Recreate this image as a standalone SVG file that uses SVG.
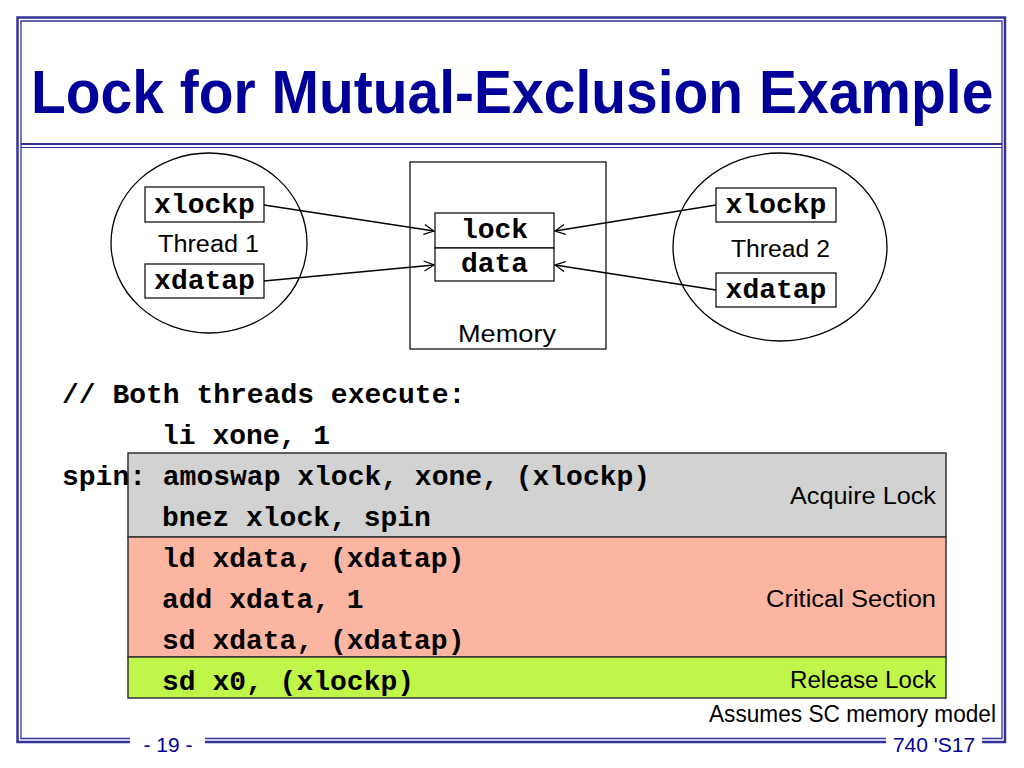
<svg xmlns="http://www.w3.org/2000/svg" width="1024" height="768" viewBox="0 0 1024 768">
<defs>
<marker id="arr" markerWidth="12" markerHeight="12" refX="11" refY="6" orient="auto" markerUnits="userSpaceOnUse">
<path d="M1,1 L11,6 L1,11" fill="none" stroke="#000" stroke-width="1.2"/>
</marker>
<style>
.frame{fill:none;stroke:#333399}
.title{font-family:"Liberation Sans",Arial,sans-serif;font-weight:bold;font-size:61px;fill:#000099}
.foot{font-family:"Liberation Sans",Arial,sans-serif;font-size:21px;fill:#000099}
.mono{font-family:"Liberation Mono","Courier New",monospace;font-weight:bold;font-size:28px;fill:#000}
.lbl{font-family:"Liberation Sans",Arial,sans-serif;font-size:23px;fill:#000}
.box{fill:#fff;stroke:#000;stroke-width:1.2}
.circ{fill:#fff;stroke:#000;stroke-width:1.3}
.conn{stroke:#000;stroke-width:1.3;fill:none}
.band{stroke:#333;stroke-width:1.5}
</style>
</defs>
<rect width="1024" height="768" fill="#fff"/>
<g id="frame">
<path class="frame" stroke-width="2.5" d="M130,742 H17.5 V17.5 H1005 V742 H982 M205,742 H886"/>
<path class="frame" stroke-width="1.3" d="M130,738.5 H21 V21 H1002 V738.5 H982 M205,738.5 H886"/>
<path class="frame" stroke-width="2" d="M21,144 H1002"/>
<path class="frame" stroke-width="1.2" d="M21,147.5 H1002"/>
</g>
<text class="title" transform="translate(31,113) scale(0.934,1)" x="0" y="0">Lock for Mutual-Exclusion Example</text>

<g id="thread1">
<ellipse class="circ" cx="209" cy="243" rx="98" ry="90"/>
<rect class="box" x="145" y="187" width="119" height="35"/>
<text class="mono" x="204.5" y="213" text-anchor="middle">xlockp</text>
<text class="lbl" x="158" y="252" textLength="101" lengthAdjust="spacingAndGlyphs">Thread 1</text>
<rect class="box" x="145" y="264" width="119" height="34"/>
<text class="mono" x="204.5" y="289" text-anchor="middle">xdatap</text>
</g>

<g id="memory">
<rect class="box" x="410" y="162" width="196" height="187"/>
<rect class="box" x="435" y="213" width="119" height="35"/>
<text class="mono" x="494.5" y="238" text-anchor="middle">lock</text>
<rect class="box" x="435" y="248" width="119" height="33"/>
<text class="mono" x="494.5" y="272" text-anchor="middle">data</text>
<text class="lbl" x="458" y="342" textLength="98" lengthAdjust="spacingAndGlyphs">Memory</text>
</g>

<g id="thread2">
<ellipse class="circ" cx="780" cy="247" rx="107" ry="94"/>
<rect class="box" x="716" y="188" width="120" height="34"/>
<text class="mono" x="776" y="213" text-anchor="middle">xlockp</text>
<text class="lbl" x="731" y="257" textLength="99" lengthAdjust="spacingAndGlyphs">Thread 2</text>
<rect class="box" x="716" y="273" width="120" height="34"/>
<text class="mono" x="776" y="298" text-anchor="middle">xdatap</text>
</g>

<g id="connectors">
<line class="conn" x1="264" y1="205" x2="434" y2="231" marker-end="url(#arr)"/>
<line class="conn" x1="264" y1="281" x2="434" y2="265" marker-end="url(#arr)"/>
<line class="conn" x1="716" y1="205" x2="555" y2="231" marker-end="url(#arr)"/>
<line class="conn" x1="716" y1="290" x2="555" y2="265" marker-end="url(#arr)"/>
</g>

<g id="code-regions">
<rect class="band" x="128" y="453" width="818" height="84" fill="#d2d2d2"/>
<rect class="band" x="128" y="537" width="818" height="120" fill="#fbb5a0"/>
<rect class="band" x="128" y="657" width="818" height="41" fill="#c0f64a"/>
<text class="lbl" x="936" y="504" text-anchor="end" textLength="146" lengthAdjust="spacingAndGlyphs">Acquire Lock</text>
<text class="lbl" x="936" y="607" text-anchor="end" textLength="170" lengthAdjust="spacingAndGlyphs">Critical Section</text>
<text class="lbl" x="936" y="688" text-anchor="end" textLength="146" lengthAdjust="spacingAndGlyphs">Release Lock</text>
</g>

<g id="code" xml:space="preserve">
<text class="mono" x="62" y="403">// Both threads execute:</text>
<text class="mono" x="162" y="444">li xone, 1</text>
<text class="mono" x="62" y="485">spin: amoswap xlock, xone, (xlockp)</text>
<text class="mono" x="162" y="526">bnez xlock, spin</text>
<text class="mono" x="162" y="567">ld xdata, (xdatap)</text>
<text class="mono" x="162" y="608">add xdata, 1</text>
<text class="mono" x="162" y="649">sd xdata, (xdatap)</text>
<text class="mono" x="162" y="690">sd x0, (xlockp)</text>
</g>

<text class="lbl" x="996" y="722" text-anchor="end" font-size="21" textLength="287" lengthAdjust="spacingAndGlyphs">Assumes SC memory model</text>
<text class="foot" x="168" y="752" text-anchor="middle">- 19 -</text>
<text class="foot" x="934" y="752" text-anchor="middle">740 'S17</text>
</svg>
